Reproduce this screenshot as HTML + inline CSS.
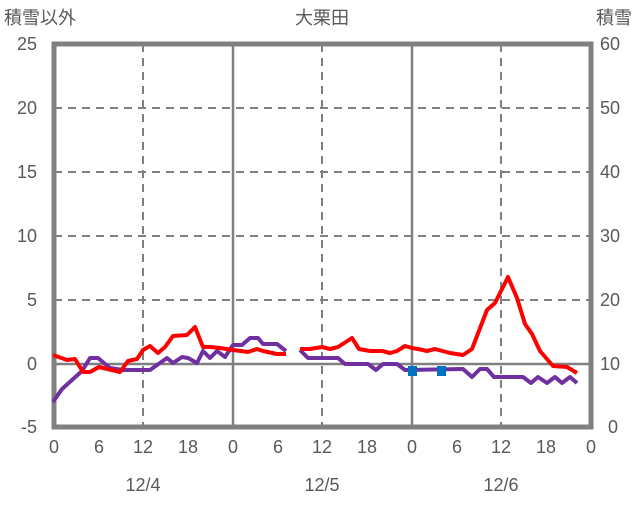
<!DOCTYPE html>
<html><head><meta charset="utf-8"><style>
body{margin:0;background:#fff;}
svg text{font-family:"Liberation Sans","Noto Sans CJK JP",sans-serif;fill:#595959;font-size:18px;}
</style></head><body>
<svg width="636" height="501" xmlns="http://www.w3.org/2000/svg">
<g stroke="#808080" stroke-width="2" stroke-dasharray="8,6" fill="none">
<line x1="54" y1="108" x2="591" y2="108"/><line x1="54" y1="172" x2="591" y2="172"/>
<line x1="54" y1="236" x2="591" y2="236"/><line x1="54" y1="300" x2="591" y2="300"/>
<line x1="143" y1="44" x2="143" y2="427"/><line x1="322" y1="44" x2="322" y2="427"/><line x1="501" y1="44" x2="501" y2="427"/>
</g>
<g stroke="#808080" stroke-width="2.5">
<line x1="54" y1="364" x2="591" y2="364"/>
<line x1="233" y1="44" x2="233" y2="427"/><line x1="412" y1="44" x2="412" y2="427"/>
</g>
<rect x="54" y="44" width="537" height="383" fill="none" stroke="#808080" stroke-width="5"/>
<polyline fill="none" stroke="#7030A0" stroke-width="4" stroke-linejoin="round" points="53,402 62,389 82,371 90,358 98,358 110,368 123,370 150,370 167,358 173,363 182,357 188,358 197,363 203,351 210,358 217,351 225,357 233,345 242,345 250,338 258,338 263,344 277,344 286,351"/>
<polyline fill="none" stroke="#7030A0" stroke-width="4" stroke-linejoin="round" points="300,350 308,358 338,358 345,364 368,364 376,370 383,364 397,364 405,370 463,369 472,377 480,369 487,369 494,377 523,377 531,383 538,377 547,383 555,377 562,383 570,377 577,383"/>
<polyline fill="none" stroke="#FF0000" stroke-width="4" stroke-linejoin="round" points="53,355 67,360 75,359 83,372 90,372 99,367 120,372 128,361 137,359 143,350 150,346 158,353 165,347 173,336 187,335 195,327 203,347 210,347 220,348 233,350 248,352 257,349 263,351 277,354 286,354"/>
<polyline fill="none" stroke="#FF0000" stroke-width="4" stroke-linejoin="round" points="300,349 310,349 322,347 330,349 338,347 352,338 359,349 370,351 382,351 390,353 397,351 405,346 412,348 418,349 427,351 435,349 450,353 463,355 472,349 487,310 495,303 508,277 517,298 525,324 532,334 540,351 553,366 567,367 577,373"/>
<rect x="408" y="366" width="9" height="10" fill="#0070C0"/>
<rect x="437" y="366" width="9" height="10" fill="#0070C0"/>
<g text-anchor="end">
<text x="37" y="50">25</text><text x="37" y="114">20</text><text x="37" y="178">15</text>
<text x="37" y="242">10</text><text x="37" y="306">5</text><text x="37" y="370">0</text><text x="37" y="433">-5</text>
</g>
<g text-anchor="start">
<text x="600" y="50">60</text><text x="600" y="114">50</text><text x="600" y="178">40</text>
<text x="600" y="242">30</text><text x="600" y="306">20</text><text x="600" y="370">10</text><text x="608" y="433">0</text>
</g>
<g text-anchor="middle">
<text x="54" y="453">0</text><text x="99" y="453">6</text><text x="143" y="453">12</text><text x="188" y="453">18</text>
<text x="233" y="453">0</text><text x="278" y="453">6</text><text x="322" y="453">12</text><text x="367" y="453">18</text>
<text x="412" y="453">0</text><text x="457" y="453">6</text><text x="501" y="453">12</text><text x="546" y="453">18</text><text x="591" y="453">0</text>
<text x="143" y="491">12/4</text><text x="322" y="491">12/5</text><text x="501" y="491">12/6</text>
<text x="322" y="24">大栗田</text>
</g>
<text x="4" y="24">積雪以外</text>
<text x="632" y="24" text-anchor="end">積雪</text>
</svg>
</body></html>
